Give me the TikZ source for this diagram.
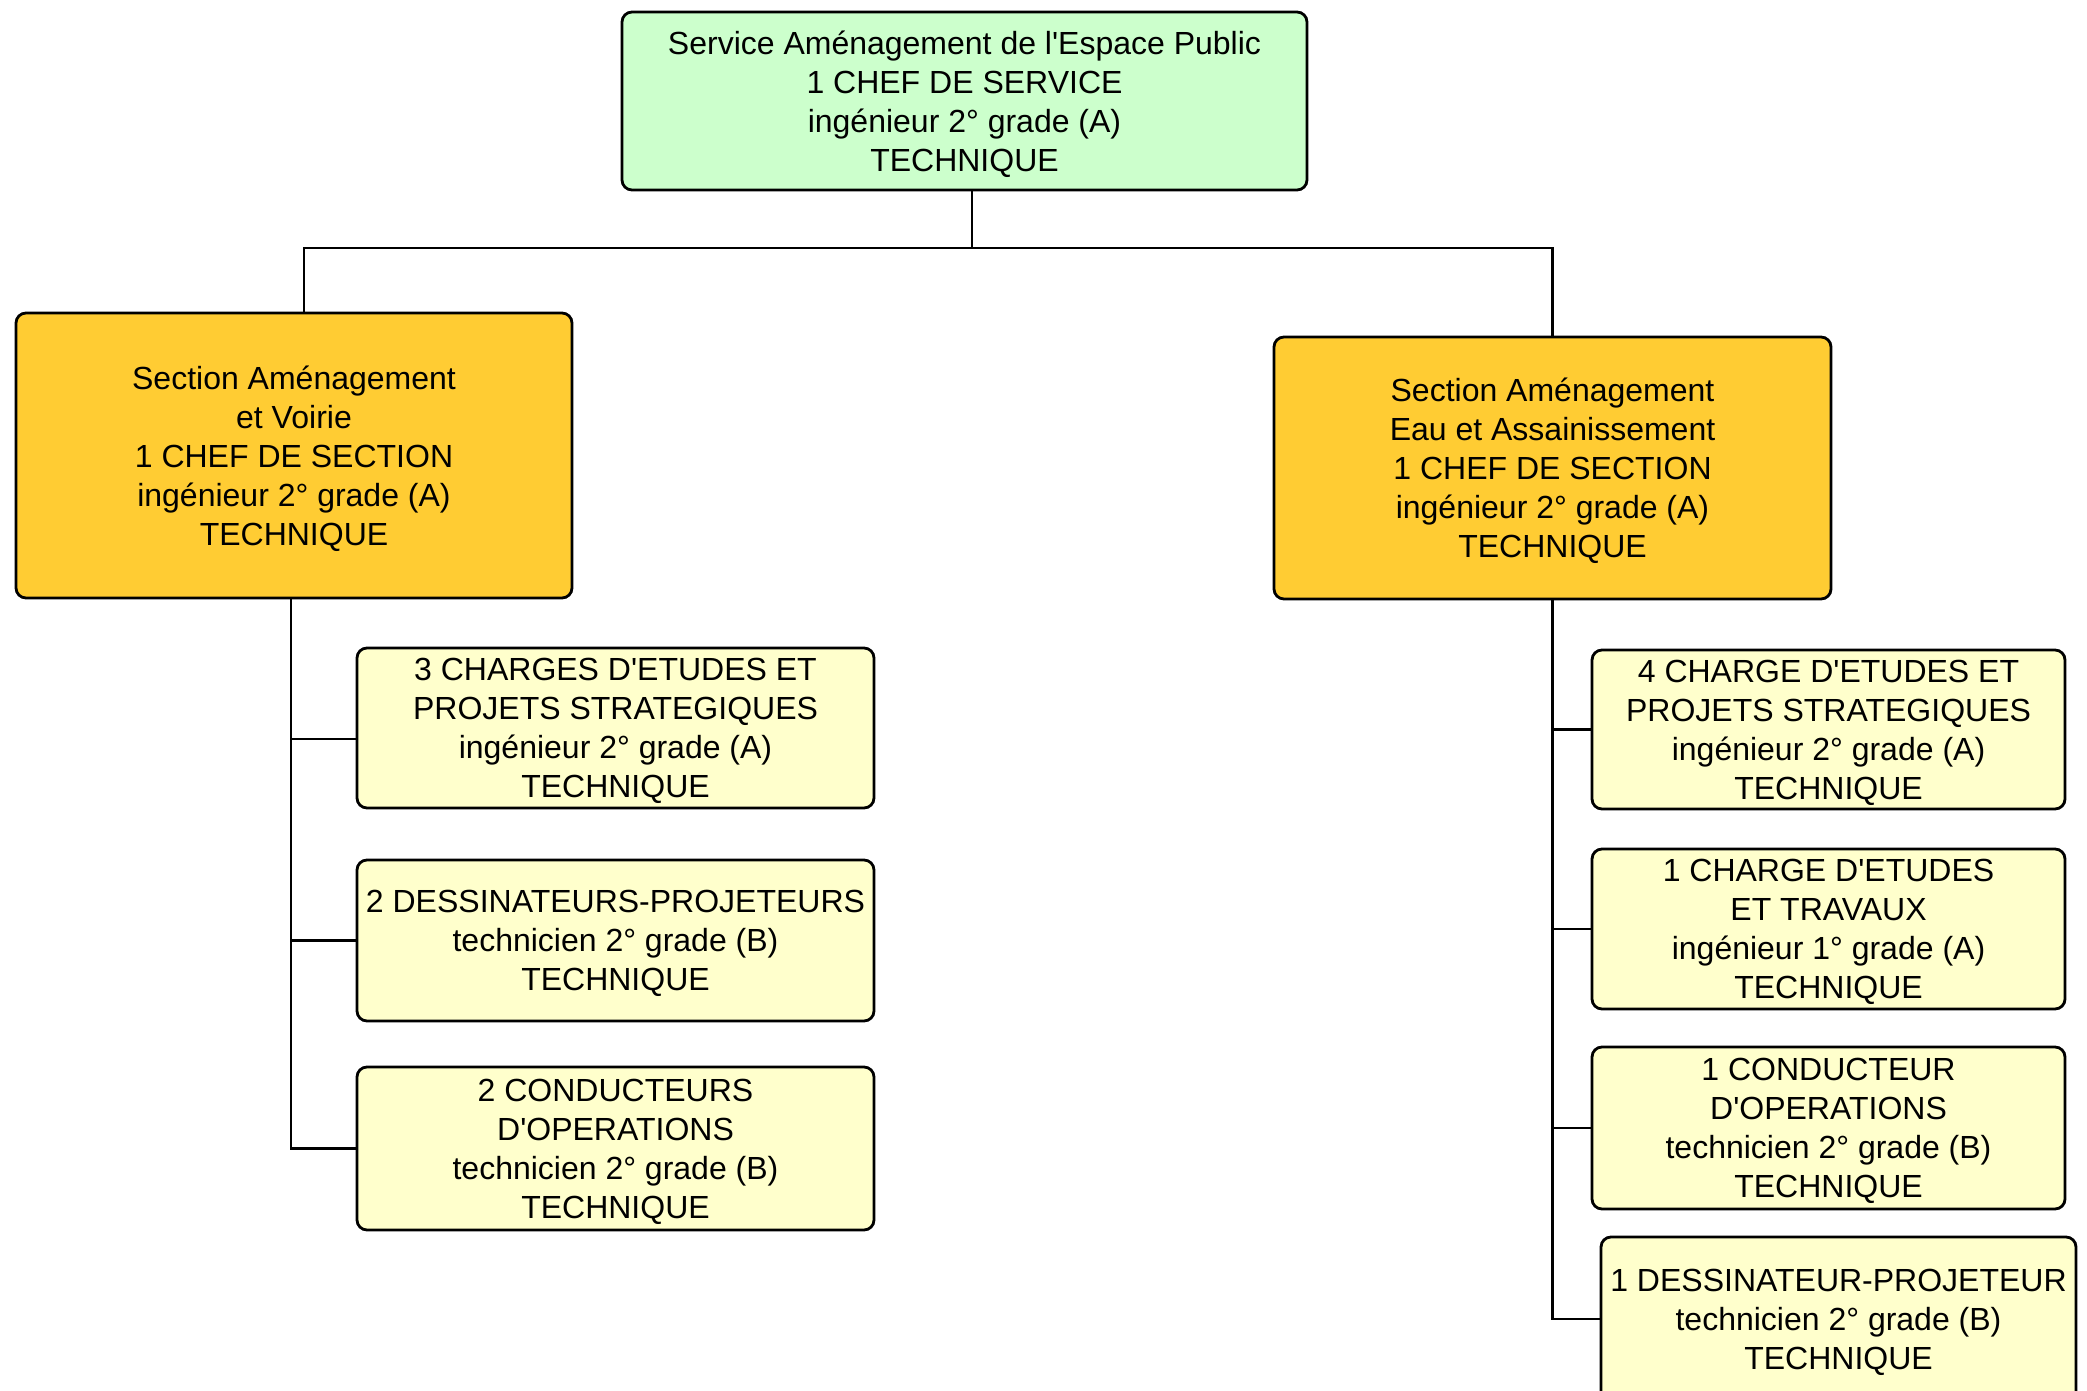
\documentclass[tikz,border=0pt]{standalone}
\usepackage{fontspec}
\setmainfont{Liberation Sans}
\newcommand\sq{\XeTeXglyph\XeTeXcharglyph"27\relax}
\definecolor{topgreen}{HTML}{CCFFCC}
\definecolor{secorange}{HTML}{FFCC33}
\definecolor{paleyellow}{HTML}{FFFFCC}
\tikzset{
  box/.style={draw=black, line width=1.4pt, rounded corners=5pt, align=center,
    inner sep=0pt, font=\fontsize{16pt}{19.5pt}\selectfont, text depth=-4pt},
  topbox/.style={box, fill=topgreen},
  secbox/.style={box, fill=secorange},
  unitbox/.style={box, fill=paleyellow},
  link/.style={draw=black, line width=1.3pt},
}
\begin{document}
\begin{tikzpicture}[x=0.5pt, y=-0.5pt]
\useasboundingbox (0,0) rectangle (2087,1391);
\clip (0,0) rectangle (2087,1391);
\fill[white] (0,0) rectangle (2087,1391);

% top
\node[topbox, minimum width=342.5pt, minimum height=89pt] (top) at (964.5,101)
  {Service Aménagement de l\sq Espace Public\\1 CHEF DE SERVICE\\ingénieur 2° grade (A)\\TECHNIQUE};

% sections
\node[secbox, minimum width=278pt, minimum height=142.5pt] (lsec) at (294,455.5)
  {Section Aménagement\\et Voirie\\1 CHEF DE SECTION\\ingénieur 2° grade (A)\\TECHNIQUE};
\node[secbox, minimum width=278.5pt, minimum height=131pt] (rsec) at (1552.5,468)
  {Section Aménagement\\Eau et Assainissement\\1 CHEF DE SECTION\\ingénieur 2° grade (A)\\TECHNIQUE};

% left units
\node[unitbox, minimum width=258.5pt, minimum height=80pt] (l1) at (615.5,728)
  {3 CHARGES D\sq ETUDES ET\\PROJETS STRATEGIQUES\\ingénieur 2° grade (A)\\TECHNIQUE};
\node[unitbox, minimum width=258.5pt, minimum height=80.5pt] (l2) at (615.5,940.5)
  {2 DESSINATEURS-PROJETEURS\\technicien 2° grade (B)\\TECHNIQUE};
\node[unitbox, minimum width=258.5pt, minimum height=81.5pt] (l3) at (615.5,1148.5)
  {2 CONDUCTEURS\\D\sq OPERATIONS\\technicien 2° grade (B)\\TECHNIQUE};

% right units
\node[unitbox, minimum width=236.5pt, minimum height=79.5pt] (r1) at (1828.5,729.5)
  {4 CHARGE D\sq ETUDES ET\\PROJETS STRATEGIQUES\\ingénieur 2° grade (A)\\TECHNIQUE};
\node[unitbox, minimum width=236.5pt, minimum height=80pt] (r2) at (1828.5,929)
  {1 CHARGE D\sq ETUDES\\ET TRAVAUX\\ingénieur 1° grade (A)\\TECHNIQUE};
\node[unitbox, minimum width=236.5pt, minimum height=81pt] (r3) at (1828.5,1128)
  {1 CONDUCTEUR\\D\sq OPERATIONS\\technicien 2° grade (B)\\TECHNIQUE};
\node[unitbox, minimum width=237.5pt, minimum height=82pt] (r4) at (1838.5,1319)
  {1 DESSINATEUR-PROJETEUR\\technicien 2° grade (B)\\TECHNIQUE};

% connectors
\coordinate (join) at (972,248);
\coordinate (lspine) at (291,0);
\path[link] (top.south -| join) -- (join);
\path[link] ([xshift=5pt]lsec.north) |- (join) -| (rsec.north);
\path[link] (lsec.south -| lspine) |- (l3.west);
\path[link] ([yshift=-5.5pt]l1.west) -- ([yshift=-5.5pt]l1.west -| lspine);
\path[link] (l2.west) -- (l2.west -| lspine);
\path[link] (rsec.south) |- (r4.west);
\path[link] (r1.west) -- (r1.west -| rsec.south);
\path[link] (r2.west) -- (r2.west -| rsec.south);
\path[link] (r3.west) -- (r3.west -| rsec.south);
\end{tikzpicture}
\end{document}
